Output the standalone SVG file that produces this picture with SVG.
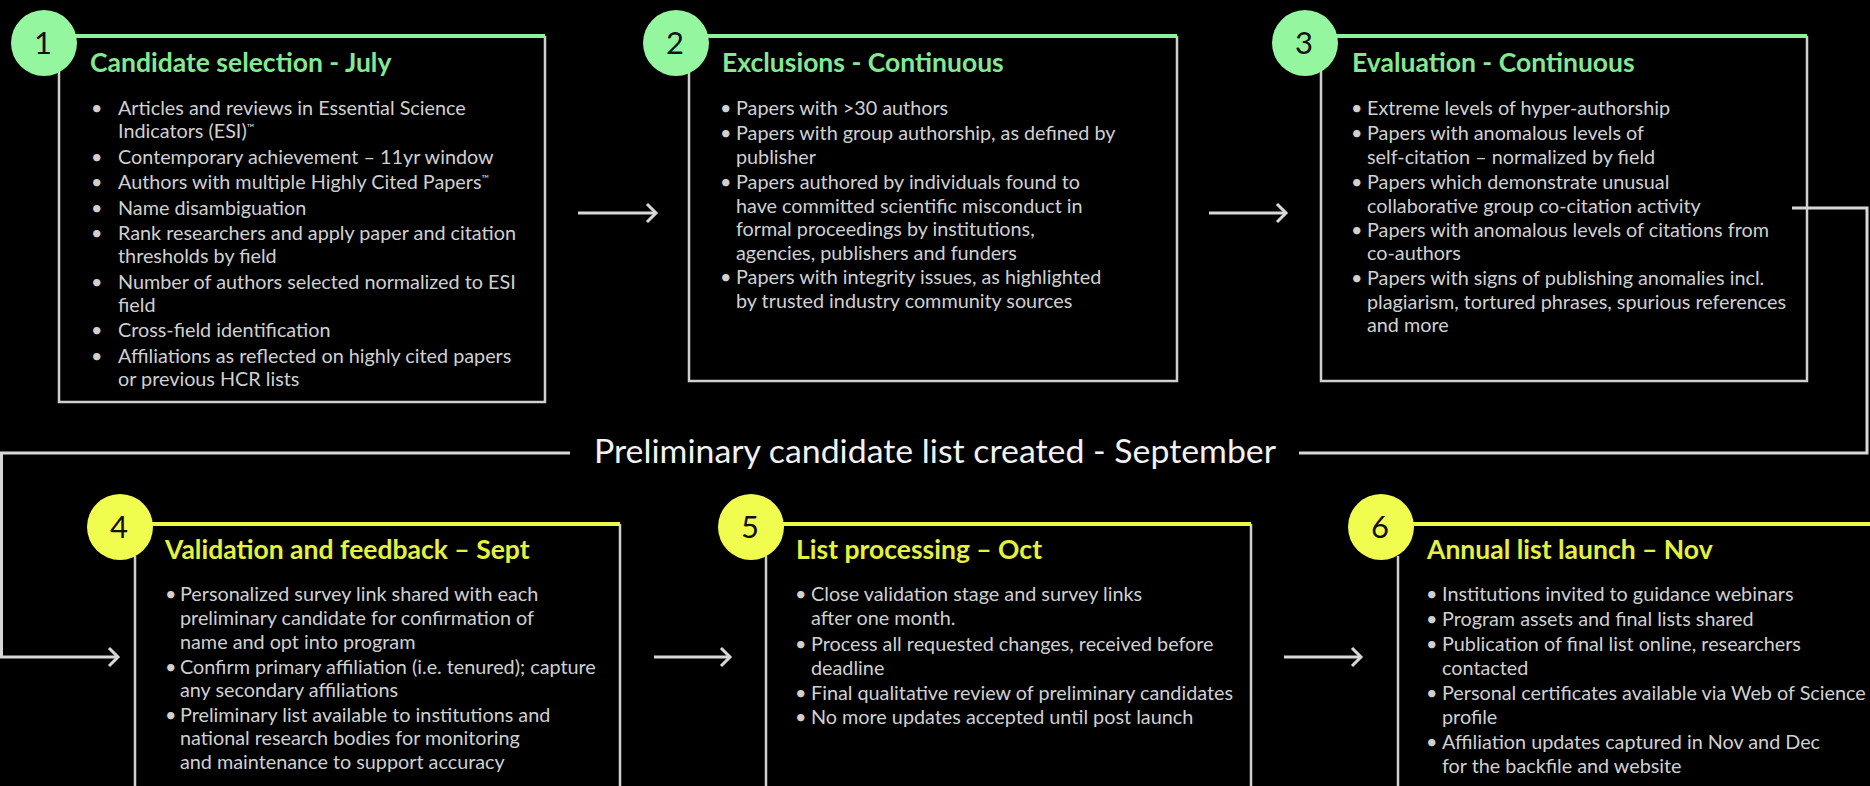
<svg xmlns="http://www.w3.org/2000/svg" width="1870" height="786" viewBox="0 0 1870 786">
<style>
.bg{fill:#000}
.bd{fill:none;stroke:#cfcfcf;stroke-width:2.5}
.gl{fill:none;stroke:#8ff09a;stroke-width:4}
.yl{fill:none;stroke:#eefb46;stroke-width:4}
.gc{fill:#94f69e}
.yc{fill:#f0fd4e}
.num{font-family:Lato,"Open Sans",sans-serif;font-size:31px;fill:#111;text-anchor:middle}
.gt{font-family:Lato,"Open Sans",sans-serif;font-size:26.5px;font-weight:700;fill:#84e890}
.yt{font-family:Lato,"Open Sans",sans-serif;font-size:26.5px;font-weight:700;fill:#e4f33a}
.body{font-family:Lato,"Open Sans",sans-serif;font-size:19.8px;fill:#d0d0d0}
.tm{font-size:10px}
.mid{font-family:Lato,"Open Sans",sans-serif;font-size:33px;fill:#f2f2f2}
.con{fill:none;stroke:#d8d8d8;stroke-width:3}
</style>
<defs>
<marker id="chev" markerUnits="userSpaceOnUse" markerWidth="14" markerHeight="24" refX="11" refY="12" orient="auto">
<path d="M2,3 L11,12 L2,21" fill="none" stroke="#d8d8d8" stroke-width="3"/>
</marker>
</defs>
<rect class="bg" x="0" y="0" width="1870" height="786"/>

<g id="connectors">
<line class="con" x1="578" y1="213" x2="656" y2="213" marker-end="url(#chev)"/>
<line class="con" x1="1209" y1="213" x2="1286" y2="213" marker-end="url(#chev)"/>
<path class="con" d="M1792,208 H1867 V453 H1299"/>
<path class="con" d="M570,453 H1.5 V657 H118" marker-end="url(#chev)"/>
<line class="con" x1="654" y1="657" x2="730" y2="657" marker-end="url(#chev)"/>
<line class="con" x1="1284" y1="657" x2="1361" y2="657" marker-end="url(#chev)"/>
<text class="mid" x="594" y="463" textLength="682" lengthAdjust="spacingAndGlyphs">Preliminary candidate list created - September</text>
</g>

<g id="node1">
<path class="bd" d="M545,36 V402 H59 V70"/>
<line class="gl" x1="60" y1="36" x2="545" y2="36"/>
<circle class="gc" cx="44" cy="43" r="33"/>
<text class="num" x="43" y="54">1</text>
<text class="gt" x="90" y="72">Candidate selection - July</text>
<text class="body">
<tspan x="91" y="115">•</tspan><tspan x="118" y="115">Articles and reviews in Essential Science</tspan>
<tspan x="118" y="138">Indicators (ESI)</tspan><tspan class="tm" dy="-7">™</tspan>
<tspan x="91" y="163.5">•</tspan><tspan x="118" y="163.5">Contemporary achievement – 11yr window</tspan>
<tspan x="91" y="189">•</tspan><tspan x="118" y="189">Authors with multiple Highly Cited Papers</tspan><tspan class="tm" dy="-7">™</tspan>
<tspan x="91" y="214.5">•</tspan><tspan x="118" y="214.5">Name disambiguation</tspan>
<tspan x="91" y="240">•</tspan><tspan x="118" y="240">Rank researchers and apply paper and citation</tspan>
<tspan x="118" y="263">thresholds by field</tspan>
<tspan x="91" y="288.5">•</tspan><tspan x="118" y="288.5">Number of authors selected normalized to ESI</tspan>
<tspan x="118" y="311.5">field</tspan>
<tspan x="91" y="337">•</tspan><tspan x="118" y="337">Cross-field identification</tspan>
<tspan x="91" y="362.5">•</tspan><tspan x="118" y="362.5">Affiliations as reflected on highly cited papers</tspan>
<tspan x="118" y="385.5">or previous HCR lists</tspan>
</text>
</g>

<g id="node2">
<path class="bd" d="M1177,36 V381 H689 V70"/>
<line class="gl" x1="690" y1="36" x2="1177" y2="36"/>
<circle class="gc" cx="676" cy="43" r="33"/>
<text class="num" x="675" y="54">2</text>
<text class="gt" x="722" y="72">Exclusions - Continuous</text>
<text class="body">
<tspan x="720" y="115">•</tspan><tspan x="736" y="115">Papers with &gt;30 authors</tspan>
<tspan x="720" y="140">•</tspan><tspan x="736" y="140">Papers with group authorship, as defined by</tspan>
<tspan x="736" y="164">publisher</tspan>
<tspan x="720" y="188.5">•</tspan><tspan x="736" y="188.5">Papers authored by individuals found to</tspan>
<tspan x="736" y="212.5">have committed scientific misconduct in</tspan>
<tspan x="736" y="236">formal proceedings by institutions,</tspan>
<tspan x="736" y="260">agencies, publishers and funders</tspan>
<tspan x="720" y="284">•</tspan><tspan x="736" y="284">Papers with integrity issues, as highlighted</tspan>
<tspan x="736" y="308">by trusted industry community sources</tspan>
</text>
</g>

<g id="node3">
<path class="bd" d="M1807,36 V381 H1321 V70"/>
<line class="gl" x1="1322" y1="36" x2="1807" y2="36"/>
<circle class="gc" cx="1305" cy="43" r="33"/>
<text class="num" x="1304" y="54">3</text>
<text class="gt" x="1352" y="72">Evaluation - Continuous</text>
<text class="body">
<tspan x="1351" y="115">•</tspan><tspan x="1367" y="115">Extreme levels of hyper-authorship</tspan>
<tspan x="1351" y="140">•</tspan><tspan x="1367" y="140">Papers with anomalous levels of</tspan>
<tspan x="1367" y="163.5">self-citation – normalized by field</tspan>
<tspan x="1351" y="188.5">•</tspan><tspan x="1367" y="188.5">Papers which demonstrate unusual</tspan>
<tspan x="1367" y="212.5">collaborative group co-citation activity</tspan>
<tspan x="1351" y="236.5">•</tspan><tspan x="1367" y="236.5">Papers with anomalous levels of citations from</tspan>
<tspan x="1367" y="260">co-authors</tspan>
<tspan x="1351" y="285">•</tspan><tspan x="1367" y="285">Papers with signs of publishing anomalies incl.</tspan>
<tspan x="1367" y="309">plagiarism, tortured phrases, spurious references</tspan>
<tspan x="1367" y="332">and more</tspan>
</text>
</g>

<g id="node4">
<path class="bd" d="M620,524 V790 M135,790 V556"/>
<line class="yl" x1="136" y1="524" x2="620" y2="524"/>
<circle class="yc" cx="120" cy="527" r="33"/>
<text class="num" x="119" y="538">4</text>
<text class="yt" x="165" y="559">Validation and feedback – Sept</text>
<text class="body">
<tspan x="165" y="601">•</tspan><tspan x="180" y="601">Personalized survey link shared with each</tspan>
<tspan x="180" y="625">preliminary candidate for confirmation of</tspan>
<tspan x="180" y="648.5">name and opt into program</tspan>
<tspan x="165" y="674">•</tspan><tspan x="180" y="674">Confirm primary affiliation (i.e. tenured); capture</tspan>
<tspan x="180" y="697">any secondary affiliations</tspan>
<tspan x="165" y="721.5">•</tspan><tspan x="180" y="721.5">Preliminary list available to institutions and</tspan>
<tspan x="180" y="745">national research bodies for monitoring</tspan>
<tspan x="180" y="769">and maintenance to support accuracy</tspan>
</text>
</g>

<g id="node5">
<path class="bd" d="M1251,524 V790 M766,790 V556"/>
<line class="yl" x1="767" y1="524" x2="1251" y2="524"/>
<circle class="yc" cx="751" cy="527" r="33"/>
<text class="num" x="750" y="538">5</text>
<text class="yt" x="796" y="559">List processing – Oct</text>
<text class="body">
<tspan x="795" y="601">•</tspan><tspan x="811" y="601">Close validation stage and survey links</tspan>
<tspan x="811" y="625">after one month.</tspan>
<tspan x="795" y="651">•</tspan><tspan x="811" y="651">Process all requested changes, received before</tspan>
<tspan x="811" y="675">deadline</tspan>
<tspan x="795" y="700">•</tspan><tspan x="811" y="700">Final qualitative review of preliminary candidates</tspan>
<tspan x="795" y="724">•</tspan><tspan x="811" y="724">No more updates accepted until post launch</tspan>
</text>
</g>

<g id="node6">
<path class="bd" d="M1398,790 V556"/>
<line class="yl" x1="1399" y1="524" x2="1872" y2="524"/>
<circle class="yc" cx="1381" cy="527" r="33"/>
<text class="num" x="1380" y="538">6</text>
<text class="yt" x="1427" y="559">Annual list launch – Nov</text>
<text class="body">
<tspan x="1426" y="601">•</tspan><tspan x="1442" y="601">Institutions invited to guidance webinars</tspan>
<tspan x="1426" y="626">•</tspan><tspan x="1442" y="626">Program assets and final lists shared</tspan>
<tspan x="1426" y="651">•</tspan><tspan x="1442" y="651">Publication of final list online, researchers</tspan>
<tspan x="1442" y="675">contacted</tspan>
<tspan x="1426" y="700">•</tspan><tspan x="1442" y="700">Personal certificates available via Web of Science</tspan>
<tspan x="1442" y="724">profile</tspan>
<tspan x="1426" y="749">•</tspan><tspan x="1442" y="749">Affiliation updates captured in Nov and Dec</tspan>
<tspan x="1442" y="773">for the backfile and website</tspan>
</text>
</g>
</svg>
